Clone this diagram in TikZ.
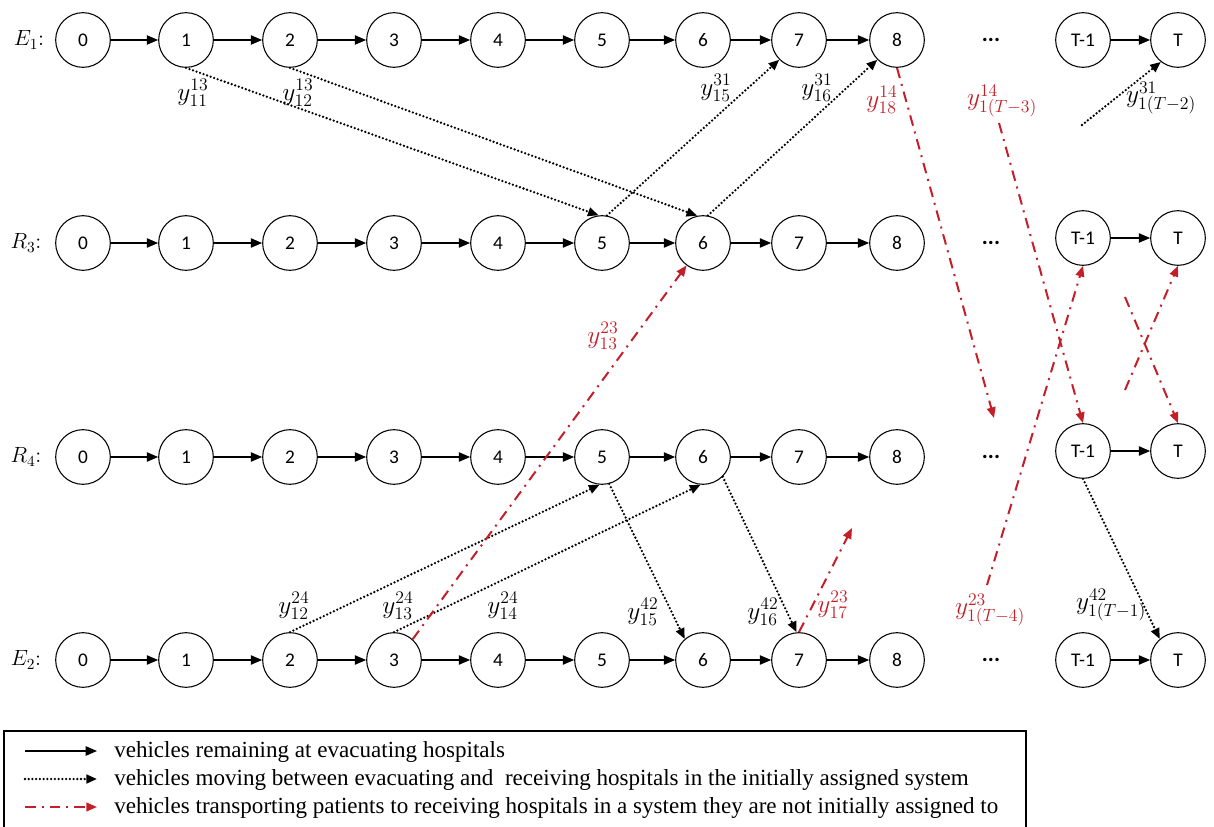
\RequirePackage{fix-cm}
\documentclass[tikz,border=0pt]{standalone}
\usepackage[no-math]{fontspec}
\setmainfont{Liberation Serif}
\newfontfamily\nodefont{Carlito}
\usetikzlibrary{arrows.meta}
\definecolor{myred}{RGB}{196,30,40}
\begin{document}
\begin{tikzpicture}[x=0.75pt,y=-0.75pt,
  st/.style={circle,draw,line width=0.8pt,minimum size=41pt,inner sep=0pt,font=\nodefont\fontsize{14.5}{16}\selectfont},
  dotsnode/.style={inner sep=0pt,font=\nodefont\bfseries\fontsize{17}{18}\selectfont},
  rowlab/.style={inner sep=0pt,font=\fontsize{16.5}{18}\selectfont},
  lab/.style={inner sep=0pt,font=\fontsize{19}{21}\selectfont},
  redlab/.style={lab,text=myred},
  solidarr/.style={-{Triangle[length=8.5pt,width=7pt]},line width=1.1pt},
  dotarr/.style={-{Triangle[length=8pt,width=6.5pt]},line width=1.9pt,line cap=round,dash pattern=on 0pt off 2.8pt},
  redarr/.style={-{Triangle[length=8pt,width=6.5pt]},myred,line width=1.5pt,dash pattern=on 8pt off 4.5pt on 1.5pt off 4.5pt},
  legtext/.style={anchor=base west,inner sep=0pt,font=\fontsize{17.3}{19}\selectfont}
]
\useasboundingbox (0,0) rectangle (1214,827);

% rows of nodes
\foreach \r/\yy/\ty in {e1/40/40, r3/243/238, r4/457/451, e2/660/660}{
  \foreach \i/\xx in {0/83,1/186,2/290,3/394,4/498,5/602,6/703,7/799,8/897}{
    \node[st] (\r-\i) at (\xx,\yy) {\i};
  }
  \foreach \i in {0,...,7}{
    \pgfmathtruncatemacro\j{\i+1}
    \draw[solidarr] (\r-\i) -- (\r-\j);
  }
  \node[st] (\r-Tm) at (1083,\ty) {T-1};
  \node[st] (\r-T) at (1178,\ty) {T};
  \draw[solidarr] (\r-Tm) -- (\r-T);
  \node[dotsnode] (\r-dots) at (991,\yy) {...};
}

% row labels
\node[rowlab] (labE1) at (29,40) {$E_1{:}$};
\node[rowlab] (labR3) at (26,243) {$R_3{:}$};
\node[rowlab] (labR4) at (26,457) {$R_4{:}$};
\node[rowlab] (labE2) at (26,660) {$E_2{:}$};

% free ends
\coordinate (f1) at (1082,125);
\coordinate (f2) at (994,418);
\coordinate (f3) at (999,123);
\coordinate (f4) at (987,585);
\coordinate (f5) at (1125,297);
\coordinate (f6) at (1125,390);
\coordinate (f7) at (852,528);

% black dotted connectors
\draw[dotarr] (e1-1.south) -- (r3-5.97);
\draw[dotarr] (e1-2.south) -- (r3-6.102);
\draw[dotarr] (r3-5.80) -- (e1-7.225);
\draw[dotarr] (r3-6.80) -- (e1-8.225);
\draw[dotarr] (f1) -- (e1-T.232);
\draw[dotarr] (e2-2.north) -- (r4-5.-95);
\draw[dotarr] (e2-3.north) -- (r4-6.-95);
\draw[dotarr] (r4-5.-75) -- (e2-6.131);
\draw[dotarr] (r4-6.-45) -- (e2-7.95);
\draw[dotarr] (r4-Tm.south) -- (e2-T.131);

% red dash-dot connectors
\draw[redarr] (e1-8.south) -- (f2);
\draw[redarr] (f3) -- (r4-Tm.north);
\draw[redarr] (f4) -- (r3-Tm.south);
\draw[redarr] (f5) -- (r4-T.north);
\draw[redarr] (f6) -- (r3-T.south);
\draw[redarr] (e2-3.48) -- (r3-6);
\draw[redarr] (e2-7.north) -- (f7);

% labels
\node[lab] (y1113) at (193,93) {$y_{11}^{13}$};
\node[lab] (y1213) at (298,93) {$y_{12}^{13}$};
\node[lab] (y1531) at (716,88) {$y_{15}^{31}$};
\node[lab] (y1631) at (817,88) {$y_{16}^{31}$};
\node[redlab] (y1814) at (882,100) {$y_{18}^{14}$};
\node[redlab] (yT3) at (1002,101) {$y_{1(T-3)}^{14}$};
\node[lab] (yT2) at (1161,98) {$y_{1(T-2)}^{31}$};
\node[redlab] (y1323) at (603,336) {$y_{13}^{23}$};
\node[lab] (y1224) at (294,606) {$y_{12}^{24}$};
\node[lab] (y1324) at (398,606) {$y_{13}^{24}$};
\node[lab] (y1424) at (503,606) {$y_{14}^{24}$};
\node[lab] (y1542) at (643,612) {$y_{15}^{42}$};
\node[lab] (y1642) at (763,612) {$y_{16}^{42}$};
\node[redlab] (y1723) at (833,605) {$y_{17}^{23}$};
\node[redlab] (yT4) at (990,610) {$y_{1(T-4)}^{23}$};
\node[lab] (yT1) at (1111,605) {$y_{1(T-1)}^{42}$};

% legend
\coordinate (bx1) at (4,830);
\coordinate (bx2) at (4,731);
\coordinate (bx3) at (1026,731);
\coordinate (bx4) at (1026,830);
\draw[line width=1.5pt] (bx1) -- (bx2) -- (bx3) -- (bx4);
\coordinate (la1) at (25,751); \coordinate (lb1) at (97,751);
\coordinate (la2) at (25,779); \coordinate (lb2) at (97,779);
\coordinate (la3) at (25,807); \coordinate (lb3) at (97,807);
\draw[solidarr] (la1) -- (lb1);
\draw[dotarr] (la2) -- (lb2);
\draw[redarr] (la3) -- (lb3);
\node[legtext] (lt1) at (114,757) {vehicles remaining at evacuating hospitals};
\node[legtext] (lt2) at (114,785) {vehicles moving between evacuating and\ \ receiving hospitals in the initially assigned system};
\node[legtext] (lt3) at (114,813) {vehicles transporting patients to receiving hospitals in a system they are not initially assigned to};
\end{tikzpicture}
\end{document}
